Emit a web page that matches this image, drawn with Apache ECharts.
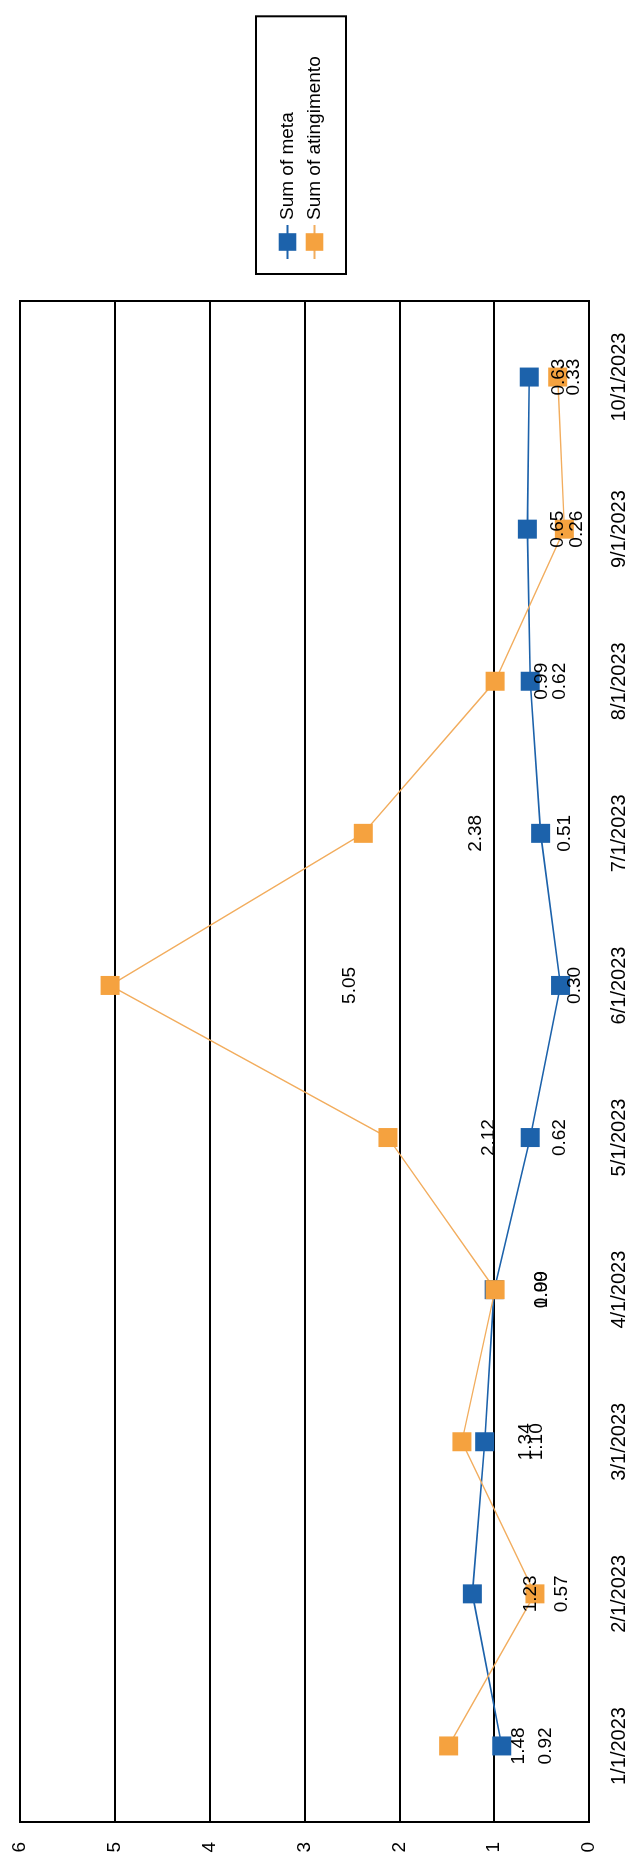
<!DOCTYPE html>
<html>
<head>
<meta charset="utf-8">
<script src="https://cdn.jsdelivr.net/npm/echarts@6/dist/echarts.min.js"></script>
<style>
  html, body { margin: 0; padding: 0; background: #ffffff; }
  body { width: 635px; height: 1862px; overflow: hidden; position: relative; }
  #chart {
    position: absolute; left: 0; top: 0;
    width: 1862px; height: 635px;
    transform-origin: 0 0;
    transform: translate(0px, 1862px) rotate(-90deg);
  }
</style>
</head>
<body>
<div id="chart"></div>
<script>
// ---- data ----
const categories = ['1/1/2023', '2/1/2023', '3/1/2023', '4/1/2023', '5/1/2023',
                    '6/1/2023', '7/1/2023', '8/1/2023', '9/1/2023', '10/1/2023'];
const sumOfMeta = [0.92, 1.23, 1.10, 1.00, 0.62, 0.30, 0.51, 0.62, 0.65, 0.63];
const sumOfAtingimento = [1.48, 0.57, 1.34, 0.99, 2.12, 5.05, 2.38, 0.99, 0.26, 0.33];
const seriesNames = ['Sum of meta', 'Sum of atingimento'];
const valueMin = 0, valueMax = 6, valueStep = 1;

// ---- chart ----
const FONT = "'Liberation Sans', Arial, sans-serif";
const BLUE = '#1c62ab';
const ORANGE = '#f5a23f';
const ORANGE_LINE = '#f2ad5e';

const chart = echarts.init(document.getElementById('chart'), null, { renderer: 'canvas' });

function labelBar(name, values) {
  return {
    name: name + ' label',
    type: 'bar',
    data: values,
    barGap: '-100%',
    barWidth: 20,
    silent: true,
    itemStyle: { color: 'rgba(0,0,0,0)' },
    emphasis: { disabled: true },
    label: {
      show: true,
      position: 'inside',
      color: '#000',
      fontFamily: FONT,
      fontSize: 19,
      formatter: p => Number(p.value).toFixed(2)
    },
    z: 5
  };
}

function lineSeries(name, values, color, lineColor, width) {
  return {
    name: name,
    type: 'line',
    data: values,
    symbol: 'rect',
    symbolSize: 19,
    itemStyle: { color: color },
    lineStyle: { color: lineColor, width: width },
    emphasis: { disabled: true },
    z: 3
  };
}

chart.setOption({
  backgroundColor: '#ffffff',
  animation: false,
  textStyle: { fontFamily: FONT },
  grid: {
    left: 40, right: 301, top: 20, bottom: 46,
    show: true, borderColor: '#000', borderWidth: 2,
    containLabel: false
  },
  legend: {
    data: seriesNames,
    orient: 'vertical',
    left: 1588,
    top: 256,
    padding: [22, 40, 22, 14],
    itemGap: 8,
    itemWidth: 34,
    itemHeight: 22,
    borderColor: '#000',
    borderWidth: 2,
    backgroundColor: '#fff',
    textStyle: { color: '#000', fontSize: 19, fontFamily: FONT }
  },
  xAxis: {
    type: 'category',
    data: categories,
    boundaryGap: true,
    axisLine: { show: false },
    axisTick: { show: false },
    axisLabel: { color: '#000', fontSize: 20, fontFamily: FONT, margin: 20, interval: 0 }
  },
  yAxis: {
    type: 'value',
    min: valueMin, max: valueMax, interval: valueStep,
    axisLine: { show: false },
    axisTick: { show: false },
    splitLine: { show: true, lineStyle: { color: '#000', width: 2 } },
    axisLabel: { color: '#000', fontSize: 19, fontFamily: FONT, margin: 20 }
  },
  series: [
    labelBar(seriesNames[0], sumOfMeta),
    labelBar(seriesNames[1], sumOfAtingimento),
    lineSeries(seriesNames[0], sumOfMeta, BLUE, BLUE, 1.6),
    lineSeries(seriesNames[1], sumOfAtingimento, ORANGE, ORANGE_LINE, 1.4)
  ]
});
</script>
</body>
</html>
